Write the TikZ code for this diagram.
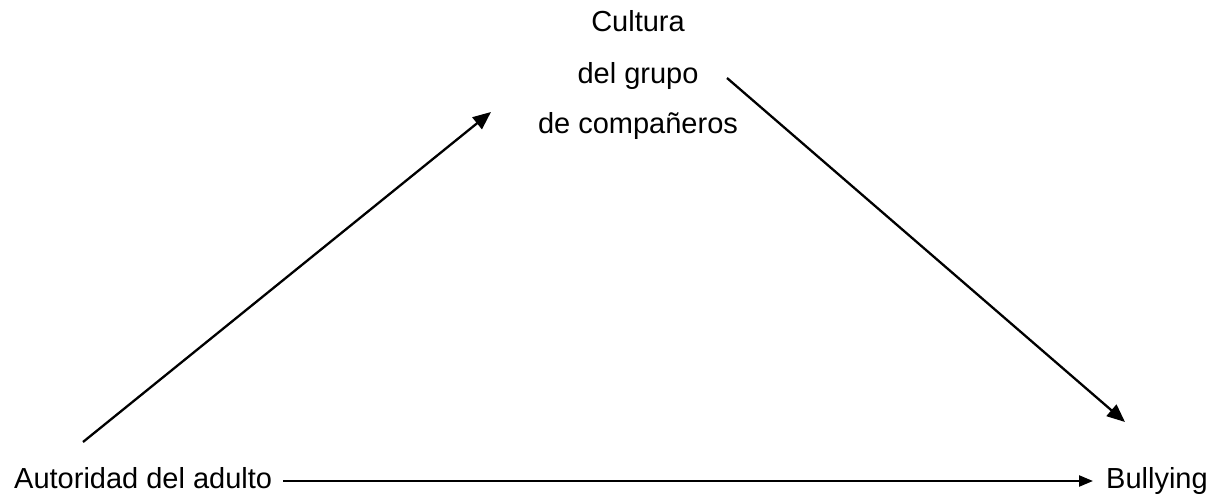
\documentclass[tikz,border=0pt]{standalone}
\usepackage{fontspec}
\setmainfont{Liberation Sans}
\usetikzlibrary{arrows.meta}
\begin{document}
\begin{tikzpicture}[x=1pt,y=-1pt,
  lbl/.style={font=\fontsize{29}{34}\selectfont, inner sep=0pt, anchor=base},
  conn/.style={line width=2.3pt, -{Triangle[length=18pt,width=15pt]}},
  connh/.style={line width=2.3pt, -{Triangle[length=14pt,width=11pt]}}]
\useasboundingbox (0,0) rectangle (1212,495);
\node[lbl] (c1) at (638,32) {Cultura};
\node[lbl] (c2) at (638,83) {del grupo};
\node[lbl] (c3) at (638,133) {de compañeros};
\node[lbl, anchor=base west] (aut) at (14,488) {Autoridad del adulto};
\node[lbl, anchor=base west] (bul) at (1106,488) {Bullying};
\coordinate (a1s) at (83,442);
\coordinate (a1e) at (491,112);
\coordinate (a2s) at (727,78);
\coordinate (a2e) at (1125,422);
\coordinate (a3s) at (283,481);
\coordinate (a3e) at (1093,481);
\draw[conn] (a1s) -- (a1e);
\draw[conn] (a2s) -- (a2e);
\draw[connh] (a3s) -- (a3e);
\end{tikzpicture}
\end{document}
